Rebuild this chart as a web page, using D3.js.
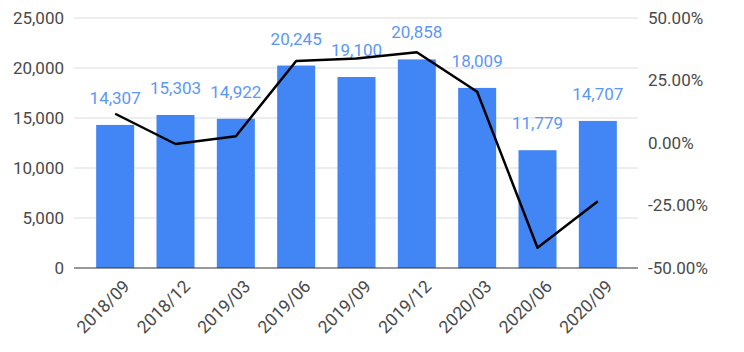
<!DOCTYPE html>
<html><head><meta charset="utf-8">
<script src="https://cdn.jsdelivr.net/npm/d3@7"></script>
<style>body{margin:0;background:#fff;} text{font-family:Roboto, "Liberation Sans", Arial, sans-serif;}</style>
</head><body>
<svg id="chart" width="744" height="352"></svg>
<script>
const categories = ["2018/09","2018/12","2019/03","2019/06","2019/09","2019/12","2020/03","2020/06","2020/09"];
const barValues = [14307,15303,14922,20245,19100,20858,18009,11779,14707];
const lineValues = [11.7,-0.4,2.7,32.8,33.8,36.3,20.5,-41.9,-23.3];
const leftTicks = [0,5000,10000,15000,20000,25000];
const rightTicks = [-50,-25,0,25,50];

const svg = d3.select("#chart");
const gridLeft = 74, gridRight = 638, plotTop = 18, plotBottom = 268;

const x = d3.scaleBand().domain(categories).range([85, 628]).paddingInner(0.37).paddingOuter(0.185);
const y = d3.scaleLinear().domain([0,25000]).range([plotBottom, plotTop]);
const y2 = d3.scaleLinear().domain([-50,50]).range([plotBottom, plotTop]);

// gridlines
svg.append("g").selectAll("line").data(leftTicks.filter(d=>d!==0)).join("line")
  .attr("x1", gridLeft).attr("x2", gridRight)
  .attr("y1", d=>y(d)).attr("y2", d=>y(d))
  .attr("stroke", "#dcdcdc").attr("stroke-width", 1);

// left axis
const fmt = d3.format(",");
const leftAxis = d3.axisLeft(y).tickValues(leftTicks).tickFormat(fmt).tickSize(0).tickPadding(10);
const gl = svg.append("g").attr("transform", `translate(${gridLeft},0)`).call(leftAxis);
gl.select(".domain").remove();
gl.selectAll("text").attr("font-size", 17).attr("fill", "#4a4a4a").attr("font-family","Roboto, sans-serif");

// right axis
const rightAxis = d3.axisRight(y2).tickValues(rightTicks)
  .tickFormat(d => (d < 0 ? "-" : "") + Math.abs(d).toFixed(2) + "%").tickSize(0).tickPadding(10);
const gr = svg.append("g").attr("transform", `translate(${gridRight},0)`).call(rightAxis);
gr.select(".domain").remove();
gr.selectAll("text").attr("font-size", 17).attr("fill", "#4a4a4a").attr("font-family","Roboto, sans-serif");

// bars
svg.append("g").selectAll("rect").data(categories).join("rect")
  .attr("x", d => x(d)).attr("width", x.bandwidth())
  .attr("y", (d,i) => y(barValues[i])).attr("height", (d,i) => y(0) - y(barValues[i]))
  .attr("fill", "#4285f4");

// baseline
svg.append("line").attr("x1", gridLeft).attr("x2", gridRight).attr("y1", y(0)).attr("y2", y(0))
  .attr("stroke", "#333").attr("stroke-width", 1.2);

// bar labels
svg.append("g").selectAll("text").data(categories).join("text")
  .attr("x", d => x(d) + x.bandwidth()/2)
  .attr("y", (d,i) => y(barValues[i]) - 21)
  .attr("text-anchor", "middle")
  .attr("font-size", 17).attr("fill", "#5b97f5")
  .text((d,i) => fmt(barValues[i]));

// line
const line = d3.line().x((d,i) => x(categories[i]) + x.bandwidth()/2).y(d => y2(d));
svg.append("path").datum(lineValues).attr("d", line)
  .attr("fill", "none").attr("stroke", "#000").attr("stroke-width", 2.5).attr("stroke-linejoin","round");

// x labels
svg.append("g").selectAll("text").data(categories).join("text")
  .attr("transform", d => `translate(${x(d) + x.bandwidth()/2 + 7},${plotBottom + 11}) rotate(-45)`)
  .attr("text-anchor", "end").attr("dy", "0.7em")
  .attr("font-size", 17.5).attr("fill", "#4a4a4a")
  .text(d => d);
</script>
</body></html>
